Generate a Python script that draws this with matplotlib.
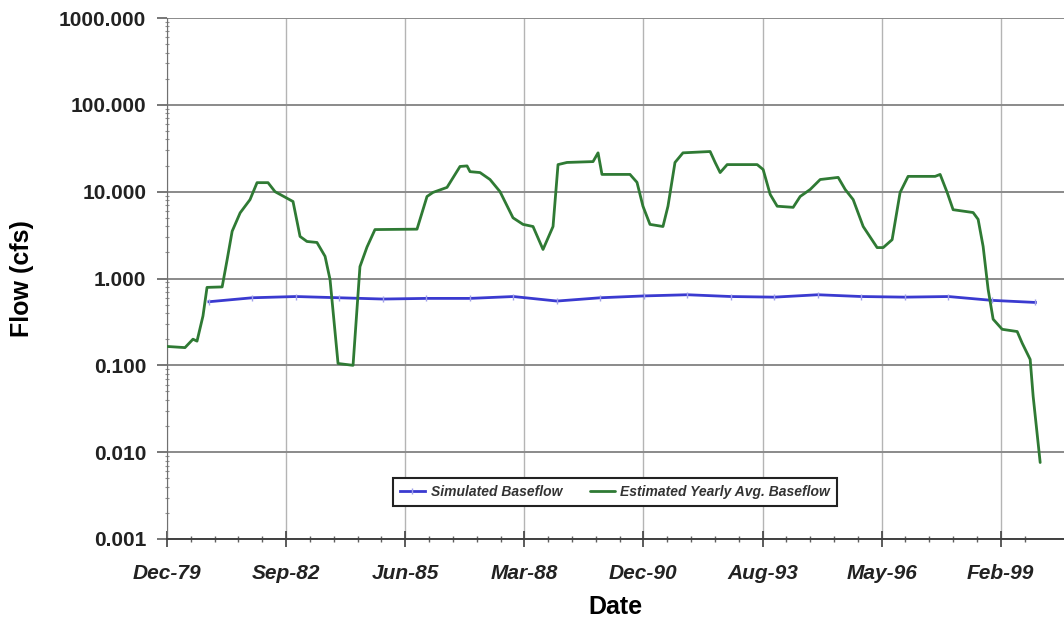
import matplotlib
matplotlib.use("Agg")
import matplotlib.pyplot as plt
import matplotlib.dates as mdates
import matplotlib.ticker as mticker
import pandas as pd

plt.rcParams["font.family"] = ["Liberation Sans", "DejaVu Sans"]

# Simulated baseflow, one value per year
sim_dates = ["1980-12-08", "1981-12-08", "1982-12-08", "1983-12-08", "1984-12-08",
             "1985-12-08", "1986-12-08", "1987-12-08", "1988-12-08", "1989-12-08",
             "1990-12-08", "1991-12-08", "1992-12-08", "1993-12-08", "1994-12-08",
             "1995-12-08", "1996-12-08", "1997-12-08", "1998-12-08", "1999-12-08"]
sim_flow = [0.54, 0.60, 0.62, 0.60, 0.58, 0.59, 0.59, 0.62, 0.55, 0.60,
            0.63, 0.65, 0.62, 0.61, 0.65, 0.62, 0.61, 0.62, 0.56, 0.53]

# Estimated yearly average baseflow
est_dates = ["1979-12-22", "1980-05-21", "1980-07-27", "1980-08-30", "1980-10-19",
             "1980-11-22", "1981-03-29", "1981-05-10", "1981-06-21", "1981-08-27",
             "1981-11-18", "1982-01-16", "1982-04-18", "1982-06-16", "1982-11-14",
             "1983-01-12", "1983-03-11", "1983-06-03", "1983-08-10", "1983-09-21",
             "1983-11-27", "1984-04-01", "1984-05-29", "1984-07-27", "1984-10-02",
             "1985-09-20", "1985-12-13", "1986-02-01", "1986-05-30", "1986-09-16",
             "1986-11-14", "1986-12-09", "1987-03-03", "1987-05-26", "1987-08-18",
             "1987-12-05", "1988-02-27", "1988-05-21", "1988-08-13", "1988-11-05",
             "1988-12-17", "1989-03-02", "1989-10-07", "1989-11-18", "1989-12-21",
             "1990-08-13", "1990-10-11", "1990-11-30", "1991-01-28", "1991-05-17",
             "1991-06-28", "1991-08-26", "1991-11-01", "1992-06-16", "1992-07-28",
             "1992-09-08", "1992-11-06", "1993-07-16", "1993-09-04", "1993-11-02",
             "1993-12-31", "1994-05-14", "1994-07-12", "1994-10-04", "1994-12-27",
             "1995-05-27", "1995-07-25", "1995-09-30", "1995-12-23", "1996-04-18",
             "1996-06-08", "1996-08-22", "1996-10-28", "1997-01-03", "1997-08-18",
             "1997-09-29", "1997-11-27", "1998-01-16", "1998-07-03", "1998-08-14",
             "1998-09-25", "1998-11-06", "1998-12-18", "1999-03-04", "1999-07-08",
             "1999-08-19", "1999-10-25", "1999-11-19", "2000-01-17"]
est_flow = [0.165, 0.16, 0.20, 0.19, 0.37,
            0.79, 0.80, 1.65, 3.5, 5.7,
            8.1, 12.7, 12.7, 10.0, 7.7,
            3.05, 2.67, 2.6, 1.8, 0.97,
            0.105, 0.10, 1.37, 2.3, 3.66,
            3.7, 8.8, 9.8, 11.2, 19.5,
            19.8, 17.0, 16.6, 13.8, 10.0,
            5.0, 4.2, 3.97, 2.16, 3.97,
            20.5, 21.7, 22.2, 28.0, 15.8,
            15.8, 12.8, 6.8, 4.2, 3.97,
            6.8, 21.7, 28.0, 29.0, 21.7,
            16.6, 20.5, 20.5, 18.0, 9.3,
            6.8, 6.6, 8.8, 10.6, 13.8,
            14.6, 10.6, 8.1, 3.97, 2.27,
            2.27, 2.8, 9.8, 15.0, 15.0,
            15.8, 9.8, 6.2, 5.75, 4.8,
            2.34, 0.75, 0.34, 0.26, 0.245,
            0.18, 0.117, 0.044, 0.0076]

y_ticks = [0.001, 0.01, 0.1, 1, 10, 100, 1000]
axis_start = "1979-12-22"
axis_span_days = 7531

sim_x = pd.to_datetime(sim_dates)
est_x = pd.to_datetime(est_dates)
x0 = pd.Timestamp(axis_start)
x1 = x0 + pd.Timedelta(days=axis_span_days)

fig = plt.figure(figsize=(10.64, 6.24), dpi=100)
ax = fig.add_axes([167 / 1064, 85 / 624, 897 / 1064, 521 / 624])

ax.plot(sim_x, sim_flow, color="#3a3ad0", lw=2.0, marker="|", ms=5,
        mec="#a0a0ea", mew=1.0, label="Simulated Baseflow", zorder=3,
        solid_joinstyle="round")
ax.plot(est_x, est_flow, color="#2f7a34", lw=2.0,
        label="Estimated Yearly Avg. Baseflow", zorder=4,
        solid_joinstyle="round", solid_capstyle="round")

ax.set_yscale("log")
ax.set_ylim(0.001, 1000)
ax.set_xlim(x0, x1)

ax.yaxis.set_major_locator(mticker.FixedLocator(y_ticks))
ax.yaxis.set_major_formatter(mticker.FormatStrFormatter("%.3f"))
ax.yaxis.set_minor_locator(mticker.LogLocator(base=10, subs=range(2, 10), numticks=20))
ax.yaxis.set_minor_formatter(mticker.NullFormatter())

ax.xaxis.set_major_locator(mticker.IndexLocator(base=1000, offset=0))
ax.xaxis.set_minor_locator(mticker.IndexLocator(base=200, offset=0))
ax.xaxis.set_major_formatter(mdates.DateFormatter("%b-%y"))

ax.grid(axis="y", which="major", color="#8a8a8a", lw=1.4, zorder=1)
ax.grid(axis="x", which="major", color="#b4b4b4", lw=1.0, zorder=1)

for s in ("top", "right"):
    ax.spines[s].set_visible(False)
ax.spines["left"].set_color("#707070")
ax.spines["bottom"].set_color("#404040")
ax.spines["bottom"].set_linewidth(1.4)

ax.tick_params(axis="y", which="major", direction="out", length=7, width=1.2,
               color="#606060", pad=8, labelsize=15)
ax.tick_params(axis="y", which="minor", direction="inout", length=3, width=0.8,
               color="#909090")
ax.tick_params(axis="x", which="major", direction="inout", length=12, width=1.2,
               color="#404040", pad=12, labelsize=15)
ax.tick_params(axis="x", which="minor", direction="inout", length=5, width=1.0,
               color="#606060")

for lbl in ax.get_yticklabels():
    lbl.set_fontweight("bold")
    lbl.set_color("#222222")
for lbl in ax.get_xticklabels():
    lbl.set_fontweight("bold")
    lbl.set_fontstyle("italic")
    lbl.set_color("#222222")

ax.set_ylabel("Flow (cfs)", fontsize=18, fontweight="bold", labelpad=18)
ax.set_xlabel("Date", fontsize=18, fontweight="bold", labelpad=9)

leg = ax.legend(loc="center", bbox_to_anchor=((615 - 167) / 897, (624 - 492 - 85) / 521),
                ncol=2, frameon=True, fancybox=False, framealpha=1,
                prop={"weight": "bold", "style": "italic", "size": 10},
                handlelength=1.8, handletextpad=0.4, columnspacing=2.0,
                borderpad=0.5, borderaxespad=0)
leg.get_frame().set_edgecolor("#222222")
leg.get_frame().set_linewidth(1.5)
for t in leg.get_texts():
    t.set_color("#333333")

fig.savefig("out.png", dpi=100)
